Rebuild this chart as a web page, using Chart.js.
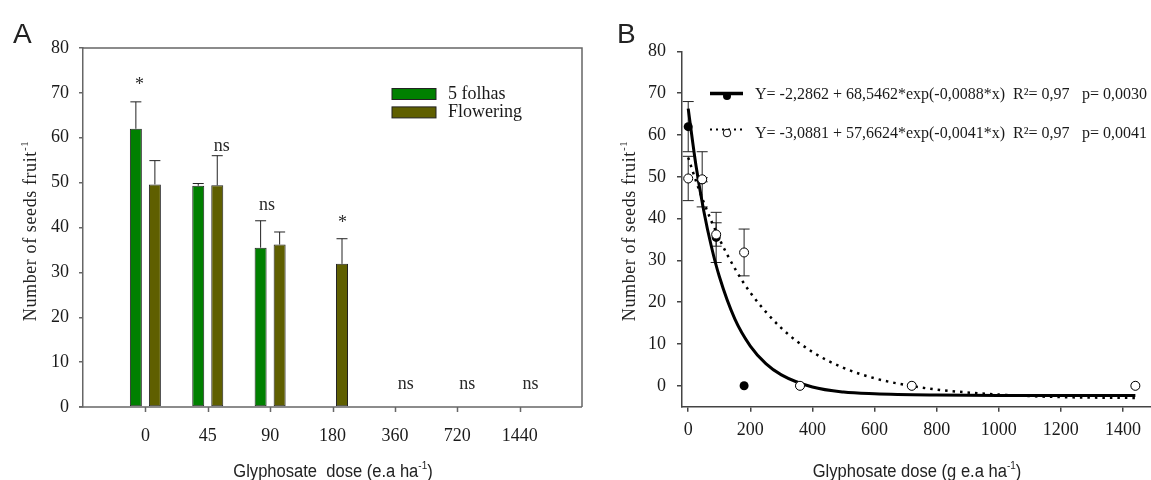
<!DOCTYPE html>
<html>
<head>
<meta charset="utf-8">
<script src="https://cdn.jsdelivr.net/npm/chart.js@4"></script>
<style>
  html, body { margin: 0; padding: 0; background: #fff; }
  body { width: 1151px; height: 480px; overflow: hidden; position: relative; }
  canvas { position: absolute; top: 0; }
  #chartA { left: 0; }
  #chartB { left: 580px; }
  .panel { position: absolute; font-family: 'Liberation Sans', Arial, sans-serif; font-size: 28px; color: #222; line-height: 1; }
  .ytitle { position: absolute; font-family: 'Liberation Serif', 'Times New Roman', serif; font-size: 18px; color: #222; letter-spacing: 0.6px;
            white-space: nowrap; transform: translate(-50%, -50%) rotate(-90deg); line-height: 1; }
  .xtitle { position: absolute; font-family: 'Liberation Sans Narrow', 'Liberation Sans', Arial, sans-serif; font-size: 18px; color: #222;
            white-space: nowrap; transform: translate(-50%, -50%) scaleX(0.92); line-height: 1; }
  sup { font-size: 0.6em; vertical-align: 0.7em; }
</style>
</head>
<body>
<canvas id="chartA" width="600" height="480"></canvas>
<canvas id="chartB" width="600" height="480"></canvas>
<div class="panel" style="left:13px; top:20px;">A</div>
<div class="panel" style="left:617px; top:20px;">B</div>
<div class="ytitle" style="left:29px; top:231px;">Number of seeds fruit<sup>-1</sup></div>
<div class="ytitle" style="left:628px; top:231px;">Number of seeds fruit<sup>-1</sup></div>
<div class="xtitle" style="left:333px; top:470px;">Glyphosate&nbsp; dose (e.a ha<sup>-1</sup>)</div>
<div class="xtitle" style="left:917px; top:470px;">Glyphosate dose (g e.a ha<sup>-1</sup>)</div>
<script>
// doses (g e.a ha-1)
const doses = ['0', '45', '90', '180', '360', '720', '1440'];
const doseValues = [0, 45, 90, 180, 360, 720, 1440];

// number of seeds per fruit, mean and error
const folhas = [62, 49.3, 35.5, 0, 0, 0, 0];
const folhasErr = [6, 0.5, 6, 0, 0, 0, 0];
const flowering = [49.6, 49.4, 36.2, 31.9, 0, 0, 0];
const floweringErr = [5.3, 6.6, 2.8, 5.6, 0, 0, 0];

// significance marks above each dose (panel A)
const sigLabels = ['*', 'ns', 'ns', '*', 'ns', 'ns', 'ns'];
const sigHeights = [72.4, 58.2, 45, 41.6, 5.1, 5.1, 5.1];

// fitted curves
const solidX = [0, 25, 50, 75, 100, 150, 200, 250, 300, 400, 500, 600, 800, 1000, 1200, 1440];
const solidY = [66.3, 52.7, 41.9, 33.2, 26.2, 16.0, 9.5, 5.3, 2.6, -0.3, -1.5, -1.9, -2.2, -2.3, -2.3, -2.3];
const dotX = [0, 25, 50, 100, 150, 200, 300, 400, 500, 600, 700, 800, 1000, 1200, 1440];
const dotY = [54.6, 49.0, 43.9, 35.2, 28.1, 22.3, 13.8, 8.1, 4.3, 1.8, 0.2, -0.9, -2.1, -2.7, -2.9];

const eqSolid = ['Y= -2,2862 + 68,5462*exp(-0,0088*x)', 'R\u00b2= 0,97', 'p= 0,0030'];
const eqDot = ['Y= -3,0881 + 57,6624*exp(-0,0041*x)', 'R\u00b2= 0,97', 'p= 0,0041'];

const yTicksA = [0, 10, 20, 30, 40, 50, 60, 70, 80];
const yTicksB = [0, 10, 20, 30, 40, 50, 60, 70, 80];
const xTicksB = [0, 200, 400, 600, 800, 1000, 1200, 1400];

const serif = "'Liberation Serif', 'Times New Roman', serif";
const tickFont = { family: serif, size: 18 };
const inkColor = '#1a1a1a';

// ---------- panel A ----------
const padded = arr => [null, ...arr, null];

const boxPlugin = {
  id: 'box',
  afterDraw(chart) {
    const a = chart.chartArea, ctx = chart.ctx, x = chart.scales.x;
    ctx.save();
    ctx.strokeStyle = '#666';
    ctx.lineWidth = 1.5;
    ctx.beginPath();
    ctx.moveTo(a.left, a.top);
    ctx.lineTo(a.right, a.top);
    ctx.lineTo(a.right, a.bottom);
    // tick marks under each dose
    doses.forEach((d, i) => {
      const px = Math.round(x.getPixelForValue(i + 1)) + 0.5;
      ctx.moveTo(px, a.bottom);
      ctx.lineTo(px, a.bottom + 5);
    });
    ctx.stroke();
    ctx.restore();
  }
};

const barErrPlugin = {
  id: 'barErr',
  afterDatasetsDraw(chart) {
    const ctx = chart.ctx, y = chart.scales.y;
    const errs = [folhasErr, floweringErr];
    ctx.save();
    ctx.strokeStyle = '#222';
    ctx.lineWidth = 1;
    chart.data.datasets.forEach((ds, i) => {
      const meta = chart.getDatasetMeta(i);
      errs[i].forEach((e, j) => {
        if (!e) return;
        const bar = meta.data[j + 1];
        const v = ds.data[j + 1];
        const y0 = y.getPixelForValue(v), y1 = y.getPixelForValue(v + e);
        ctx.beginPath();
        ctx.moveTo(bar.x, y0);
        ctx.lineTo(bar.x, y1);
        ctx.moveTo(bar.x - 5.5, y1);
        ctx.lineTo(bar.x + 5.5, y1);
        ctx.stroke();
      });
    });
    ctx.restore();
  }
};

const sigPlugin = {
  id: 'sig',
  afterDatasetsDraw(chart) {
    const ctx = chart.ctx, x = chart.scales.x, y = chart.scales.y;
    const shift = [-6, 14, -3, 10, 11, 10, 11];
    ctx.save();
    ctx.fillStyle = '#2a2a2a';
    ctx.font = '18px ' + serif;
    ctx.textAlign = 'center';
    ctx.textBaseline = 'middle';
    sigLabels.forEach((t, i) => {
      const px = x.getPixelForValue(i + 1) + shift[i];
      const py = y.getPixelForValue(sigHeights[i]) + (t === '*' ? 3 : 0);
      ctx.fillText(t, px, py);
    });
    ctx.restore();
  }
};

const legendAPlugin = {
  id: 'legendA',
  afterDraw(chart) {
    const ctx = chart.ctx;
    ctx.save();
    ctx.font = '18px ' + serif;
    ctx.textBaseline = 'middle';
    chart.data.datasets.forEach((ds, i) => {
      const top = 88.5 + i * 18.4;
      ctx.fillStyle = ds.backgroundColor;
      ctx.fillRect(392, top, 44, 11);
      ctx.strokeStyle = '#222';
      ctx.lineWidth = 1;
      ctx.strokeRect(392, top, 44, 11);
      ctx.fillStyle = inkColor;
      ctx.fillText(ds.label, 448, top + 5.5);
    });
    ctx.restore();
  }
};

new Chart(document.getElementById('chartA'), {
  type: 'bar',
  data: {
    labels: ['', ...doses, ''],
    datasets: [
      { label: '5 folhas', data: padded(folhas), backgroundColor: '#008000', borderColor: '#222',
        borderWidth: 1, borderSkipped: false, categoryPercentage: 0.61, barPercentage: 0.63 },
      { label: 'Flowering', data: padded(flowering), backgroundColor: '#5f5f00', borderColor: '#222',
        borderWidth: 1, borderSkipped: false, categoryPercentage: 0.61, barPercentage: 0.63 }
    ]
  },
  options: {
    responsive: false,
    animation: false,
    layout: { padding: { top: 48, right: 18, left: 0, bottom: 0 } },
    plugins: { legend: { display: false }, tooltip: { enabled: false } },
    scales: {
      x: {
        offset: false,
        grid: { offset: false, display: false, tickLength: 5 },
        border: { display: false },
        ticks: { font: tickFont, color: inkColor, padding: 13, autoSkip: false, maxRotation: 0 },
        afterFit: s => { s.height = 73; }
      },
      y: {
        min: 0, max: 80,
        afterBuildTicks: s => { s.ticks = yTicksA.map(v => ({ value: v })); },
        grid: { drawOnChartArea: false, tickLength: 4, lineWidth: 1.5, color: '#666' },
        border: { color: '#666', width: 1.5 },
        ticks: { font: tickFont, color: inkColor, padding: 10 },
        afterFit: s => { s.width = 83; }
      }
    }
  },
  plugins: [{
    id: 'baseA',
    afterDraw(chart) {
      const a = chart.chartArea, ctx = chart.ctx;
      ctx.save();
      ctx.strokeStyle = '#666';
      ctx.lineWidth = 1.5;
      ctx.beginPath();
      ctx.moveTo(a.left - 4, a.bottom);
      ctx.lineTo(a.right, a.bottom);
      ctx.stroke();
      ctx.restore();
    }
  }, boxPlugin, barErrPlugin, sigPlugin, legendAPlugin]
});

// ---------- panel B ----------
const pointErrPlugin = {
  id: 'pointErr',
  beforeDatasetsDraw(chart) {
    const ctx = chart.ctx, x = chart.scales.x, y = chart.scales.y;
    ctx.save();
    ctx.strokeStyle = '#222';
    ctx.lineWidth = 1;
    [[folhas, folhasErr], [flowering, floweringErr]].forEach(([m, e]) => {
      m.forEach((v, j) => {
        if (!e[j]) return;
        const px = x.getPixelForValue(doseValues[j]);
        const lo = y.getPixelForValue(v - e[j]), hi = y.getPixelForValue(v + e[j]);
        ctx.beginPath();
        ctx.moveTo(px, lo); ctx.lineTo(px, hi);
        ctx.moveTo(px - 5.5, lo); ctx.lineTo(px + 5.5, lo);
        ctx.moveTo(px - 5.5, hi); ctx.lineTo(px + 5.5, hi);
        ctx.stroke();
      });
    });
    ctx.restore();
  }
};

const legendBPlugin = {
  id: 'legendB',
  afterDraw(chart) {
    const ctx = chart.ctx;
    ctx.save();
    // solid row
    ctx.strokeStyle = '#000';
    ctx.lineWidth = 3.5;
    ctx.beginPath(); ctx.moveTo(130, 93.5); ctx.lineTo(163, 93.5); ctx.stroke();
    ctx.fillStyle = '#000';
    ctx.beginPath(); ctx.arc(147, 96, 4, 0, Math.PI * 2); ctx.fill();
    // dotted row
    ctx.lineWidth = 2;
    ctx.setLineDash([2, 4]);
    ctx.beginPath(); ctx.moveTo(130, 129.5); ctx.lineTo(163, 129.5); ctx.stroke();
    ctx.setLineDash([]);
    ctx.lineWidth = 1;
    ctx.fillStyle = '#fff';
    ctx.beginPath(); ctx.arc(147, 133, 3.8, 0, Math.PI * 2); ctx.fill(); ctx.stroke();

    ctx.fillStyle = inkColor;
    ctx.font = '16px ' + serif;
    ctx.textBaseline = 'middle';
    const cols = [175, 433, 502];
    [[eqSolid, 95], [eqDot, 134]].forEach(([row, yy]) => {
      row.forEach((t, k) => ctx.fillText(t, cols[k], yy));
    });
    ctx.restore();
  }
};

const toXY = (xs, ys) => xs.map((v, i) => ({ x: v, y: ys[i] }));

new Chart(document.getElementById('chartB'), {
  type: 'scatter',
  data: {
    datasets: [
      { label: 'Flowering', data: toXY(doseValues, flowering), pointRadius: 4.5,
        pointBackgroundColor: '#fff', pointBorderColor: '#000', pointBorderWidth: 1 },
      { label: 'fit 5 folhas', data: toXY(solidX, solidY), showLine: true, pointRadius: 0,
        borderColor: '#000', borderWidth: 3, cubicInterpolationMode: 'monotone' },
      { label: 'fit Flowering', data: toXY(dotX, dotY), showLine: true, pointRadius: 0,
        borderColor: '#000', borderWidth: 2.5, borderDash: [2.5, 5], cubicInterpolationMode: 'monotone' },
      { label: '5 folhas', data: toXY(doseValues, folhas), pointRadius: 4.5,
        pointBackgroundColor: '#000', pointBorderColor: '#000', pointBorderWidth: 0 }
    ]
  },
  options: {
    responsive: false,
    animation: false,
    layout: { padding: { top: 51.4, right: 26, left: 0, bottom: 0 } },
    plugins: { legend: { display: false }, tooltip: { enabled: false } },
    scales: {
      x: {
        type: 'linear', min: -20, max: 1500,
        afterBuildTicks: s => { s.ticks = xTicksB.map(v => ({ value: v })); },
        grid: { drawOnChartArea: false, tickLength: 5, lineWidth: 1.5, color: '#444' },
        border: { color: '#444', width: 1.5 },
        ticks: { font: tickFont, color: inkColor, padding: 8, maxRotation: 0, callback: v => String(v) },
        afterFit: s => { s.height = 73.3; }
      },
      y: {
        min: -5, max: 80,
        afterBuildTicks: s => { s.ticks = yTicksB.map(v => ({ value: v })); },
        grid: { drawOnChartArea: false, tickLength: 5, lineWidth: 1.5, color: '#444' },
        border: { color: '#444', width: 1.5 },
        ticks: { font: tickFont, color: inkColor, padding: 11, callback: v => String(v) },
        afterFit: s => { s.width = 102; }
      }
    }
  },
  plugins: [pointErrPlugin, legendBPlugin]
});
</script>
</body>
</html>
